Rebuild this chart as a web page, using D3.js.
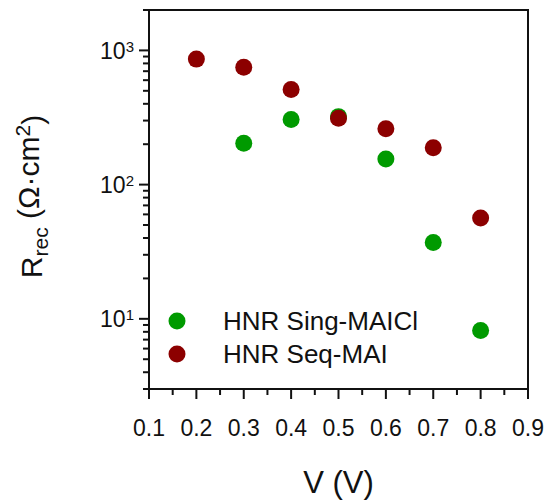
<!DOCTYPE html>
<head>
    <meta charset="utf-8">
    <title>Rrec vs V</title>
    <script src="https://cdn.jsdelivr.net/npm/d3@7"></script>
    <style>
        body { margin: 0; background: white; }
        svg text { font-family: 'Liberation Sans', Arial, sans-serif; fill: #111; }
    </style>
</head>
<body>
<script>
//DATA
var volts = [0.2, 0.3, 0.4, 0.5, 0.6, 0.7, 0.8];
var sing = [null, 203, 305, 321, 155, 37, 8.2];   // HNR Sing-MAICl
var seq = [861, 750, 512, 312, 261, 188, 56.4];    // HNR Seq-MAI
var names = ['HNR Sing-MAICl', 'HNR Seq-MAI'];
var colors = ['#009a00', '#8c0000'];
var xMajor = [0.1, 0.2, 0.3, 0.4, 0.5, 0.6, 0.7, 0.8, 0.9];
var yMajor = [10, 100, 1000];
var yExp = ['1', '2', '3'];

//SCALES
var W = 548, H = 503;
var L = 149, R = 528, T = 10, B = 389;

var x = d3.scaleLinear().domain([0.1, 0.9]).range([L, R]);
var y = d3.scaleLog().domain([3, 2000]).range([B, T]);

var xMinor = d3.range(0.15, 0.9, 0.1);
var yMinor = [];
[1, 10, 100, 1000].forEach(function(p) {
    d3.range(2, 10).forEach(function(m) {
        var v = m * p;
        if (v >= 3 && v <= 2000 && yMajor.indexOf(v) < 0) yMinor.push(v);
    });
});

var svg = d3.select('body').append('svg')
    .attr('width', W).attr('height', H);

//TICKS
var ticks = svg.append('g').attr('stroke', '#111').attr('stroke-width', 2);

ticks.selectAll('.xt')
    .data(xMajor.map(d => ({ v: d, s: 10 })).concat(xMinor.map(d => ({ v: d, s: 6 }))))
    .enter().append('line')
    .attr('x1', d => x(d.v)).attr('x2', d => x(d.v))
    .attr('y1', B).attr('y2', d => B + d.s);

ticks.selectAll('.yt')
    .data(yMajor.map(d => ({ v: d, s: 10 })).concat(yMinor.map(d => ({ v: d, s: 6 }))))
    .enter().append('line')
    .attr('y1', d => y(d.v)).attr('y2', d => y(d.v))
    .attr('x1', L).attr('x2', d => L - d.s);

//TICK LABELS
svg.selectAll('.xl')
    .data(xMajor).enter().append('text')
    .attr('x', d => x(d)).attr('y', 436)
    .attr('text-anchor', 'middle')
    .style('font-size', '23px')
    .text(d3.format('.1f'));

svg.selectAll('.yl')
    .data(yMajor).enter().append('text')
    .attr('x', L - 15).attr('y', d => y(d)).attr('dy', '0.36em')
    .attr('text-anchor', 'end')
    .style('font-size', '23px')
    .each(function(d, i) {
        var t = d3.select(this);
        t.append('tspan').text('10');
        t.append('tspan').attr('dy', '-0.45em').style('font-size', '15px').text(yExp[i]);
    });

//FRAME
svg.append('rect')
    .attr('x', L).attr('y', T)
    .attr('width', R - L).attr('height', B - T)
    .attr('fill', 'none').attr('stroke', '#111').attr('stroke-width', 2);

//POINTS
var series = [sing, seq];
series.forEach(function(s, k) {
    svg.append('g').selectAll('circle')
        .data(volts.map((v, i) => ({ v: v, r: s[i] })).filter(d => d.r != null))
        .enter().append('circle')
        .attr('cx', d => x(d.v))
        .attr('cy', d => y(d.r))
        .attr('r', 8.5)
        .attr('fill', colors[k]);
});

//LEGEND
var leg = svg.append('g');
names.forEach(function(n, k) {
    var ly = 321 + k * 33;
    leg.append('circle').attr('cx', 177).attr('cy', ly).attr('r', 8.5).attr('fill', colors[k]);
    leg.append('text').attr('x', 223).attr('y', ly).attr('dy', '0.36em')
        .style('font-size', '26px').text(n);
});

//TITLES
svg.append('text')
    .attr('x', (L + R) / 2).attr('y', 493)
    .attr('text-anchor', 'middle')
    .style('font-size', '31px')
    .text('V (V)');

var yl = svg.append('text')
    .attr('transform', 'translate(42,' + ((T + B) / 2 - 3) + ') rotate(-90)')
    .attr('text-anchor', 'middle')
    .style('font-size', '30px');
yl.append('tspan').text('R');
yl.append('tspan').attr('dy', '0.3em').style('font-size', '21px').text('rec');
yl.append('tspan').attr('dy', '-0.3em').text(' (Ω·cm');
yl.append('tspan').attr('dy', '-0.45em').style('font-size', '21px').text('2');
yl.append('tspan').attr('dy', '0.45em').text(')');
</script>
</body>
